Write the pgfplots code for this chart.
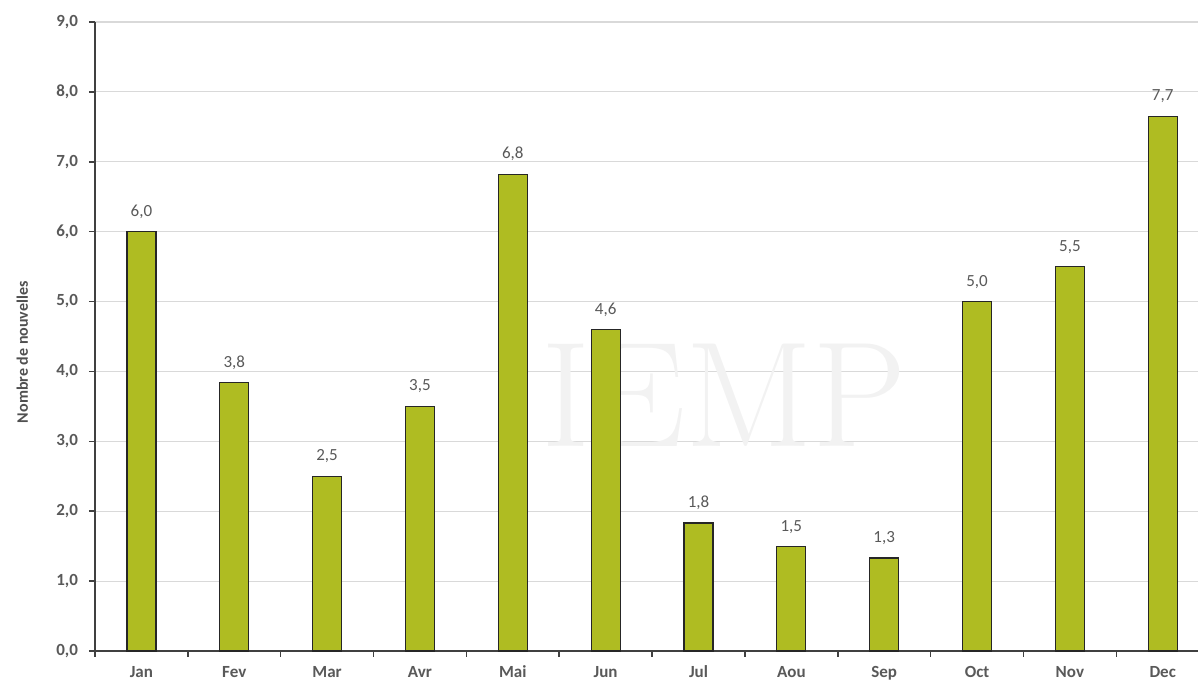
\documentclass[border=0pt]{standalone}
\usepackage{pgfplots}
\pgfplotsset{compat=1.18}
\usepackage{fontspec}
\setmainfont{Carlito}
\newfontfamily\wmfont{Latin Modern Roman}
\definecolor{barfill}{HTML}{AFBC22}
\definecolor{txtgray}{HTML}{595959}
\definecolor{gridgray}{HTML}{D9D9D9}
\definecolor{axgray}{HTML}{404040}
\begin{document}
\begin{tikzpicture}
\begin{axis}[
    scale only axis,
    width=551.5pt, height=314.5pt,
    ybar, bar width=14.5pt,
    xmin=-0.5, xmax=11.38,
    ymin=0, ymax=9,
    axis x line*=bottom, axis y line*=left,
    axis line style={axgray, line width=0.8pt},
    xtick={0,...,11},
    xticklabels={Jan,Fev,Mar,Avr,Mai,Jun,Jul,Aou,Sep,Oct,Nov,Dec},
    minor xtick={-0.5,0.5,...,10.5},
    major x tick style={draw=none},
    minor x tick style={axgray, line width=0.8pt},
    minor tick length=3pt,
    ytick={0,1,...,9},
    y tick style={axgray, line width=0.8pt},
    major tick length=3pt,
    tick align=outside,
    ymajorgrids, grid style={gridgray, line width=0.6pt},
    /pgf/number format/assume math mode=true,
    /pgf/number format/.cd, fixed, fixed zerofill, precision=1, use comma, /pgfplots/.cd,
    ticklabel style={font=\fontsize{8.5}{10}\selectfont\bfseries, text=txtgray},
    yticklabel style={xshift=-2pt},
    xticklabel style={yshift=-1pt},
    ylabel={Nombre de nouvelles},
    ylabel style={at={(axis description cs:-0.066,0.475)}, anchor=center, rotate=0,
        font=\fontsize{8}{9}\selectfont\bfseries, text=txtgray!90!black},
    nodes near coords,
    every node near coord/.append style={font=\fontsize{8.5}{10}\selectfont, text=txtgray,
        /pgf/number format/fixed, /pgf/number format/fixed zerofill,
        /pgf/number format/precision=1, /pgf/number format/use comma,
        /pgf/number format/assume math mode=true, yshift=3pt},
    clip=false,
]
\node[font=\wmfont\fontsize{75}{80}\selectfont, text=black!5, anchor=center] at (axis cs:6.28,3.66) {IEMP};
\addplot[fill=barfill, draw=black!85, line width=0.6pt] coordinates {
    (0,6.0) (1,3.84) (2,2.5) (3,3.5) (4,6.82) (5,4.6)
    (6,1.83) (7,1.49) (8,1.33) (9,5.0) (10,5.5) (11,7.65)
};
\coordinate (bbl) at (rel axis cs:0,0);
\coordinate (btr) at (rel axis cs:1,1);
\end{axis}
\pgfresetboundingbox
\useasboundingbox ([xshift=-47.5pt, yshift=-16pt]bbl) rectangle ([yshift=11pt]btr);
\end{tikzpicture}
\end{document}
